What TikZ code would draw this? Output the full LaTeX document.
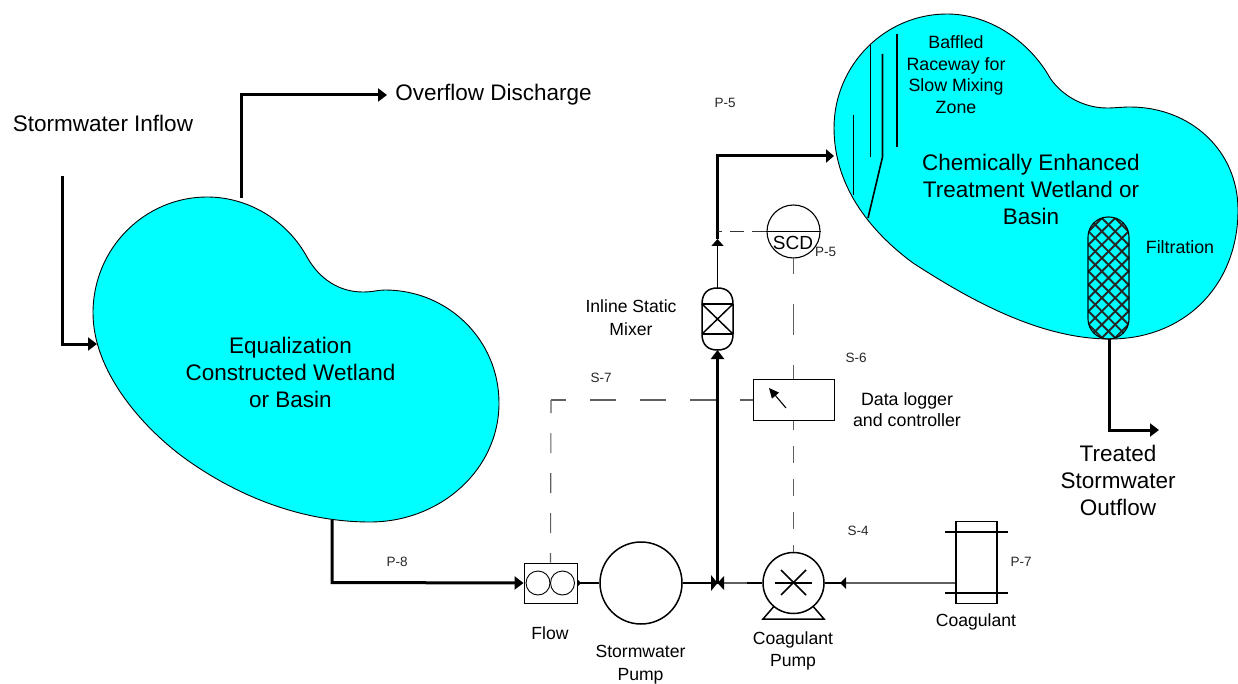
\documentclass[tikz,border=0pt]{standalone}
\usepackage{fontspec}
\setmainfont{Liberation Sans}
\usetikzlibrary{arrows.meta,calc}
\definecolor{basin}{RGB}{0,255,255}
\definecolor{sig}{RGB}{95,95,95}
\tikzset{
  x=1pt,y=-1pt,
  basinshape/.style={draw=black,line width=0.9pt,fill=basin},
  thickpipe/.style={line width=3pt,line cap=butt,line join=miter,-{Triangle[length=9pt,width=13pt]}},
  thinpipe/.style={line width=1.5pt},
  greypipe/.style={line width=1.5pt,draw=sig},
  tipup/.style={-{Triangle[length=7pt,width=12pt]}},
  sigline/.style={line width=1.1pt,draw=sig},
  sigshort/.style={line width=1.1pt,draw=black!80,dash pattern=on 14pt off 8pt},
  box/.style={draw=black,line width=0.9pt,fill=white,inner sep=0pt},
  sym/.style={draw=black,line width=1.5pt},
  big/.style={align=center,inner sep=0pt,font=\fontsize{22.5}{27}\selectfont},
  mid/.style={align=center,inner sep=0pt,font=\fontsize{17.8}{21.6}\selectfont},
  lab/.style={align=center,inner sep=0pt,font=\fontsize{17.6}{22.5}\selectfont},
  tiny/.style={inner sep=0pt,font=\fontsize{13.5}{15}\selectfont,text=black!85},
}
\begin{document}
\begin{tikzpicture}
\useasboundingbox (0,0) rectangle (1238,684);
% ---------- basins
\path[basinshape] (93,313)
  .. controls (93,248) and (145,197) .. (207,197)
  .. controls (250,197) and (288,222) .. (307,257)
  .. controls (320,280) and (340,292) .. (363,292)
  .. controls (373,292) and (378,290) .. (385,290)
  .. controls (448,290) and (499,340) .. (499,403)
  .. controls (499,470) and (440,522) .. (370,522)
  .. controls (300,522) and (235,495) .. (183,457)
  .. controls (140,425) and (93,370) .. (93,313) -- cycle;
\path[basinshape] (834,128)
  .. controls (834,65) and (885,14) .. (947,14)
  .. controls (990,14) and (1030,42) .. (1050,78)
  .. controls (1063,97) and (1085,108) .. (1107,108)
  .. controls (1115,108) and (1122,107) .. (1130,107)
  .. controls (1190,107) and (1238,150) .. (1238,210)
  .. controls (1238,285) and (1185,339) .. (1110,339)
  .. controls (1040,339) and (970,300) .. (913,263)
  .. controls (875,235) and (834,190) .. (834,128) -- cycle;
% ---------- baffles
\draw[line width=1.6pt] (853.5,115) -- (853.5,195);
\draw[line width=1.6pt] (870.5,45) -- (870.5,157);
\draw[line width=1.6pt] (882.5,54) -- (882.5,157) -- (868,218);
\draw[line width=1.6pt] (897,34) -- (897,147);
% ---------- filter
\begin{scope}
  \clip[rounded corners=20pt] (1088,217) rectangle (1129,339);
  \foreach \k in {-16,...,16}{
    \draw[line width=1.9pt,black!85] (1108.5+\k*13.3-130,278-130) -- (1108.5+\k*13.3+130,278+130);
    \draw[line width=1.9pt,black!85] (1108.5+\k*13.3+130,278-130) -- (1108.5+\k*13.3-130,278+130);
  }
\end{scope}
\draw[line width=1.1pt,rounded corners=20pt] (1088,217) rectangle (1129,339);
% ---------- equipment nodes
\node[box,minimum width=53pt,minimum height=40pt] (flow) at (550.5,583) {};
\draw[line width=0.9pt] (538,583) circle[radius=12];
\draw[line width=0.9pt] (562.5,583) circle[radius=12];
\node[draw=black,line width=1.5pt,circle,minimum size=82pt,inner sep=0pt] (swpump) at (641,583) {};
% coagulant pump
\draw[sym,fill=white] (776,604) -- (763,619) -- (824,619) -- (811,604);
\node[draw=black,line width=1.5pt,fill=white,circle,minimum size=61pt,inner sep=0pt] (cpump) at (793.5,583) {};
\draw[sym] (775,583) -- (812,583);
\draw[sym] (781,570) -- (806,595);
\draw[sym] (806,570) -- (781,595);
% coagulant tank
\node[draw=black,line width=1.6pt,minimum width=41pt,minimum height=82pt,inner sep=0pt] (tank) at (976.5,562.5) {};
\draw[sym] (945,532) -- (1008,532);
\draw[sym] (945,593) -- (1008,593);
% mixer
\coordinate (mixtop) at (717.5,288);
\coordinate (mixbot) at (717.5,350);
\draw[sym] (702,304) .. controls (702,293) and (708,288) .. (717.5,288) .. controls (727,288) and (733,293) .. (733,304)
  -- (733,334) .. controls (733,345) and (727,350) .. (717.5,350) .. controls (708,350) and (702,345) .. (702,334) -- cycle;
\draw[sym] (702,304) -- (733,304);
\draw[sym] (702,334) -- (733,334);
\draw[sym] (702,304) -- (733,334);
\draw[sym] (733,304) -- (702,334);
% SCD
\node[draw=black,line width=1.1pt,circle,minimum size=53pt,inner sep=0pt] (scd) at (793.5,231.5) {};
\draw[line width=1.5pt] (scd.west) -- (scd.east);
% logger
\node[box,minimum width=81pt,minimum height=41pt] (logger) at (793.5,400) {};
\draw[line width=1.1pt,-{Triangle[length=10pt,width=9pt]}] (786,408) -- (769,388);
% ---------- coordinates
\coordinate (inA) at (62,176);
\coordinate (inB) at (62,344);
\coordinate (inC) at (97,344);
\coordinate (ovA) at (241,198);
\coordinate (ovB) at (241,95);
\coordinate (ovC) at (387,95);
\coordinate (eqA) at (332,520);
\coordinate (eqB) at (332,582.5);
\coordinate (junc) at (717.5,583);
\coordinate (lmid) at (717.5,239);
\coordinate (corner) at (717.5,156);
\coordinate (ceA) at (834,156);
\coordinate (filA) at (1109,339);
\coordinate (filB) at (1109,430);
\coordinate (filC) at (1159,430);
\coordinate (sig7) at (551,400);
\coordinate (scdT) at (717.5,231.5);
% ---------- pipes
\draw[thickpipe] (inA) -- (inB) -- (inC);
\draw[thickpipe] (ovA) -- (ovB) -- (ovC);
\draw[thickpipe] (eqA) -- (eqB) -- (flow.west);
\draw[thickpipe] (junc) -- (mixbot);
\draw[thickpipe,-{Triangle[length=8pt,width=13pt]}] (lmid) -- (corner) -- (ceA);
\draw[thickpipe] (filA) -- (filB) -- (filC);
\draw[thinpipe,tipup] (mixtop) -- (lmid);
\draw[thinpipe] (flow.east) -- (swpump.west);
\draw[thinpipe] (swpump.east) -- (junc);
\path[fill=black] (711,575) -- (717.5,583) -- (711,591) -- cycle;
\draw[greypipe] (747,583) -- (junc);
\draw[thinpipe] (747,583) -- (cpump.west);
\path[fill=black] (724,576) -- (717.5,583) -- (724,590) -- cycle;
\path[fill=black] (577,579) -- (581,583) -- (577,587) -- cycle;
\draw[greypipe] (tank.west |- junc) -- (846,583);
\draw[thinpipe] (846,583) -- (cpump.east);
\path[fill=black] (846,577) -- (840,583) -- (846,589) -- cycle;
% ---------- signal lines
\draw[sigline,dash pattern=on 26pt off 24pt,dash phase=13pt] (logger.west) -- (sig7);
\draw[sigline,dash pattern=on 20pt off 20pt,dash phase=7pt] (sig7) -- (flow.north);
\draw[sigshort] (scd.west) -- (scdT);
\draw[sigline,dash pattern=on 31pt off 30pt,dash phase=16pt] (scd.south) -- (logger.north);
\draw[sigline,dash pattern=on 17pt off 16pt,dash phase=8pt] (logger.south) -- (cpump.north);
% ---------- text
\node[big] (t1) at (103,123) {Stormwater Inflow};
\node[big] (t2) at (493.5,95) {Overflow Discharge};
\node[big] (t3) at (290.5,372) {Equalization\\Constructed Wetland\\or Basin};
\node[big] (t4) at (1031,189) {Chemically Enhanced\\Treatment Wetland or\\Basin};
\node[big] (t5) at (1118,480) {Treated\\Stormwater\\Outflow};
\node[mid] (t6) at (956,74.5) {Baffled\\Raceway for\\Slow Mixing\\Zone};
\node[mid] (t7) at (1180,247) {Filtration};
\node[mid] (t8) at (907,409.5) {Data logger\\and controller};
\node[lab] (t9) at (631,317.5) {Inline Static\\Mixer};
\node[lab] (t10) at (550,633) {Flow};
\node[lab] (t11) at (640.5,664.5) {Stormwater\\Pump};
\node[lab] (t12) at (793,651) {Coagulant\\Pump};
\node[lab] (t13) at (976,622) {Coagulant};
\node[inner sep=0pt,font=\fontsize{19}{20}\selectfont] (t14) at (793,243) {SCD};
\node[tiny] (p1) at (725,103) {P-5};
\node[tiny] (p2) at (825.5,252) {P-5};
\node[tiny] (p3) at (856,358) {S-6};
\node[tiny] (p4) at (601,378) {S-7};
\node[tiny] (p5) at (397,562) {P-8};
\node[tiny] (p6) at (858,531) {S-4};
\node[tiny] (p7) at (1021,562) {P-7};
\end{tikzpicture}
\end{document}
